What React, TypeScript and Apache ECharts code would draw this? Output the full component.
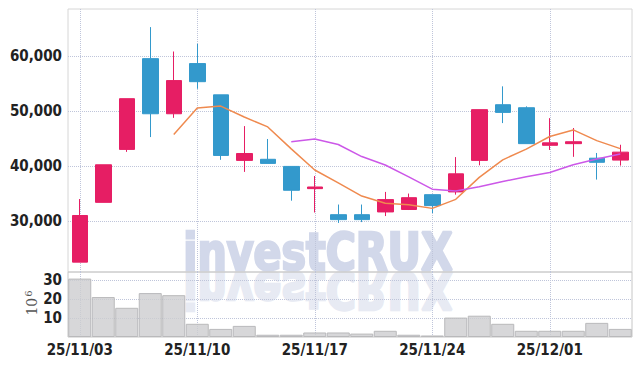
import React, { useEffect, useRef } from 'react';
import * as echarts from 'echarts';

const dates = [
  '25/11/03', '25/11/04', '25/11/05', '25/11/06', '25/11/07',
  '25/11/10', '25/11/11', '25/11/12', '25/11/13', '25/11/14',
  '25/11/17', '25/11/18', '25/11/19', '25/11/20', '25/11/21',
  '25/11/24', '25/11/25', '25/11/26', '25/11/27', '25/11/28',
  '25/12/01', '25/12/02', '25/12/03', '25/12/04',
];

const opens = [22500, 33400, 43050, 59600, 49550, 58700, 53000, 41050, 41250, 39950, 35900, 31150, 31150, 31650, 32100, 34800, 35300, 41050, 51200, 50650, 43800, 44100, 41450, 41100];
const closes = [31000, 40250, 52300, 49550, 55600, 55400, 41950, 42300, 40500, 35600, 36200, 30250, 30250, 33900, 34250, 32800, 38600, 50300, 49800, 44100, 44250, 44450, 40700, 42550];
const lows = [22500, 33400, 42600, 45300, 48800, 54100, 41150, 38950, 40500, 33700, 31550, 29650, 29800, 30900, 32000, 31450, 34800, 40150, 47850, 44100, 42950, 41700, 37550, 40100];
const highs = [34000, 40250, 52300, 65350, 60900, 62300, 53000, 47300, 44950, 39950, 38200, 33000, 33000, 35300, 35000, 34800, 41650, 50300, 54550, 50900, 48750, 46950, 42400, 43900];

const ma5 = ['-', '-', '-', '-', 45750, 50600, 50950, 48950, 47150, 43150, 39300, 36950, 34550, 33250, 32950, 32300, 33950, 37950, 41150, 43100, 45400, 46600, 44650, 43200];
const ma10 = ['-', '-', '-', '-', '-', '-', '-', '-', '-', 44450, 44950, 43950, 41750, 40200, 38050, 35800, 35450, 36250, 37200, 38050, 38850, 40250, 41300, 42200];

// volume in millions (10^6)
const volumes = [31, 21.2, 15.5, 23.3, 22.2, 7, 4.3, 5.9, 1.2, 1.2, 2.4, 2.4, 1.8, 3.3, 1.2, 0.8, 10.3, 11.3, 7, 3.3, 3.3, 3.3, 7.5, 4.3];

const priceMin = 20700;
const priceMax = 68650;
const volMax = 34.5;
const volUnitBase = '10';
const volUnitExp = '6';
const watermark = 'investCRUX';

const UP = '#e61e64';
const DOWN = '#3399cc';
const GRID_LINE = '#bfc5da';
const LABEL_FONT = '"Liberation Sans Narrow", "DejaVu Sans Condensed", sans-serif';

export default function App() {
  const ref = useRef<HTMLDivElement>(null);

  useEffect(() => {
    const chart = echarts.init(ref.current!, null, { renderer: 'svg' });
    const labelStyle = {
      fontFamily: LABEL_FONT,
      fontSize: 15,
      fontWeight: 'bold',
      color: '#222',
    };
    const splitLineX = {
      show: true,
      interval: 4,
      alignWithLabel: true,
      lineStyle: { type: 'dotted', color: GRID_LINE, width: 1 },
    };
    const splitLineY = {
      show: true,
      showMinLine: false,
      showMaxLine: false,
      lineStyle: { type: 'dotted', color: GRID_LINE },
    };
    const wmStyle = {
      text: watermark, x: 0, y: -19,
      fontFamily: '"DejaVu Sans Condensed", "DejaVu Sans", sans-serif',
      fontSize: 52,
      fontWeight: 'bold',
      textAlign: 'center', textVerticalAlign: 'middle',
      align: 'center', verticalAlign: 'middle',
      lineWidth: 2.5,
    };
    chart.setOption({
      animation: false,
      backgroundColor: '#fff',
      grid: [
        { left: 68, right: 10, top: 9, height: 263, show: true, borderColor: '#d6d6d6', borderWidth: 1 },
        { left: 68, right: 10, top: 272, height: 65, show: true, borderColor: '#c6c6c6', borderWidth: 1 },
      ],
      xAxis: [
        {
          type: 'category', gridIndex: 0, data: dates, boundaryGap: true,
          axisLine: { show: false }, axisTick: { show: false, alignWithLabel: true },
          axisLabel: { show: false, interval: 4 },
          splitLine: splitLineX,
        },
        {
          type: 'category', gridIndex: 1, data: dates, boundaryGap: true,
          axisLine: { show: false }, axisTick: { show: false, alignWithLabel: true },
          axisLabel: { ...labelStyle, interval: 4, margin: 5 },
          splitLine: splitLineX,
        },
      ],
      yAxis: [
        {
          type: 'value', gridIndex: 0, min: priceMin, max: priceMax, scale: true,
          axisLine: { show: false }, axisTick: { show: false },
          axisLabel: {
            ...labelStyle, margin: 6, showMinLabel: false, showMaxLabel: false,
            formatter: (v: number) => v.toLocaleString('en-US'),
          },
          splitLine: splitLineY,
        },
        {
          type: 'value', gridIndex: 1, min: 0, max: volMax, interval: 10,
          axisLine: { show: false }, axisTick: { show: false },
          axisLabel: { ...labelStyle, margin: 6, showMinLabel: false, showMaxLabel: false },
          splitLine: splitLineY,
        },
      ],
      series: [
        {
          type: 'candlestick', xAxisIndex: 0, yAxisIndex: 0, barWidth: 16,
          data: dates.map((_, i) => [opens[i], closes[i], lows[i], highs[i]]),
          itemStyle: { color: UP, color0: DOWN, borderColor: UP, borderColor0: DOWN, borderWidth: 1 },
          z: 3,
        },
        {
          type: 'line', xAxisIndex: 0, yAxisIndex: 0, data: ma5, symbol: 'none',
          lineStyle: { color: '#ef8a4f', width: 1.5 }, itemStyle: { color: '#ef8a4f' }, z: 4,
        },
        {
          type: 'line', xAxisIndex: 0, yAxisIndex: 0, data: ma10, symbol: 'none',
          lineStyle: { color: '#cc58e8', width: 1.5 }, itemStyle: { color: '#cc58e8' }, z: 4,
        },
        {
          type: 'bar', xAxisIndex: 1, yAxisIndex: 1, data: volumes, barCategoryGap: '2%',
          itemStyle: { color: 'rgba(205,205,208,0.8)', borderColor: '#b9b9bb', borderWidth: 1 },
        },
      ],
      graphic: [
        {
          type: 'text', x: 318, y: 271, scaleX: 0.88, z: -10, silent: true,
          style: { ...wmStyle, fill: '#d2d8ea', stroke: '#d2d8ea' },
        },
        {
          type: 'text', x: 318, y: 271, scaleX: 0.88, scaleY: -1, z: -11, silent: true,
          style: { ...wmStyle, fill: '#e7eaf3', stroke: '#e7eaf3' },
        },
        {
          type: 'text', x: 32, y: 303, rotation: Math.PI / 2, silent: true,
          style: {
            text: `{a|${volUnitBase}}{b|${volUnitExp}}`,
            align: 'center', verticalAlign: 'middle',
            textAlign: 'center', textVerticalAlign: 'middle',
            rich: {
              a: { fontFamily: '"DejaVu Serif", serif', fontSize: 14, fill: '#555', color: '#555' },
              b: { fontFamily: '"DejaVu Serif", serif', fontSize: 10, fill: '#555', color: '#555', padding: [0, 0, 8, 1] },
            },
          },
        },
      ],
    });
    return () => chart.dispose();
  }, []);

  return (
    <div
      ref={ref}
      style={{ position: 'fixed', left: 0, top: 0, width: 642, height: 366, background: '#fff' }}
    />
  );
}
